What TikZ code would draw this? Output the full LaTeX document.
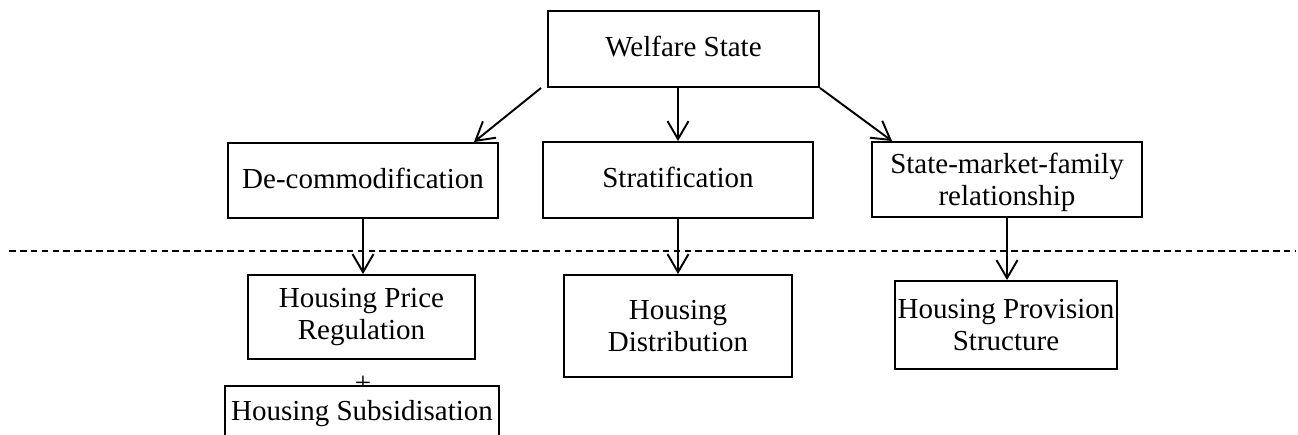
\documentclass[tikz,border=0pt]{standalone}
\usepackage{fontspec}
\setmainfont{Liberation Serif}
\usetikzlibrary{arrows.meta}

\begin{document}
\begin{tikzpicture}[
  box/.style={rectangle, draw, line width=1.1pt, fill=white, inner sep=0pt,
              font=\fontsize{16.5}{18.5}\selectfont, align=center},
  oneline/.style={text height=0.9em, text depth=0pt},
  ar/.style={-{Straight Barb[length=0.36cm, width=0.42cm]}, line width=1.1pt},
  divider/.style={dash pattern=on 3.8pt off 2.4pt, line width=0.6pt}
]
\path[use as bounding box, clip] (0,0) rectangle (25.96,-8.68);

\node[box, oneline, minimum width=5.42cm, minimum height=1.52cm] (welfare) at (13.67,-0.98) {Welfare State};

\node[box, oneline, minimum width=5.4cm, minimum height=1.5cm]  (decom) at (7.26,-3.61)  {De-commodification};
\node[box, oneline, minimum width=5.4cm, minimum height=1.52cm] (strat) at (13.56,-3.6)  {Stratification};
\node[box, text depth=0pt, minimum width=5.4cm, minimum height=1.5cm] (smf) at (20.14,-3.59) {State-market-family\\relationship};

\draw[ar] ([xshift=-0.12cm]welfare.south west) -- ([xshift=-0.5cm]decom.north east);
\draw[ar] (strat.north |- welfare.south) -- (strat.north);
\draw[ar] (welfare.south east) -- ([xshift=0.42cm]smf.north west);

% level divider
\coordinate (divL) at (0.18,-5.02);
\coordinate (divR) at (25.9,-5.02);
\draw[divider] (divL) -- (divR);

\node[box, minimum width=4.54cm, minimum height=1.68cm] (price) at (7.23,-6.34)  {Housing Price\\Regulation};
\node[box, minimum width=4.56cm, minimum height=2.04cm] (dist)  at (13.56,-6.52) {Housing\\Distribution};
\node[box, minimum width=4.44cm, minimum height=1.76cm] (prov)  at (20.12,-6.5)  {Housing Provision\\Structure};

\draw[ar] (decom.south) -- (decom.south |- price.north);
\draw[ar] (strat.south) -- (strat.south |- dist.north);
\draw[ar] (smf.south)   -- (smf.south |- prov.north);

\node[font=\fontsize{16.5}{18.5}\selectfont, inner sep=0pt, anchor=base] (plus) at (7.26,-7.84) {+};
\node[box, anchor=north, minimum width=5.48cm, inner ysep=0.45cm,
      text height=0.7em, text depth=1.5cm] (subs) at (7.24,-7.7) {Housing Subsidisation};

\end{tikzpicture}
\end{document}
